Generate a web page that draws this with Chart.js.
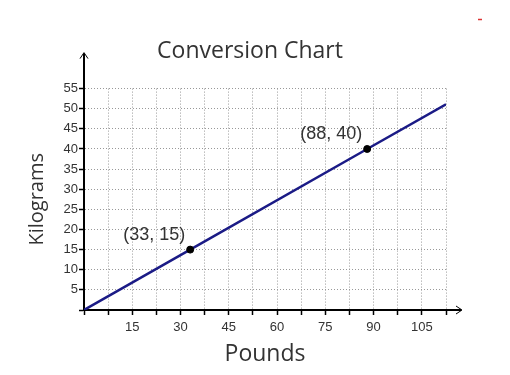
<!DOCTYPE html>
<html>
<head>
<meta charset="utf-8">
<script src="https://cdn.jsdelivr.net/npm/chart.js@4/dist/chart.umd.min.js"></script>
<style>
  body { margin: 0; background: #fff; }
  canvas { display: block; }
</style>
</head>
<body>
<canvas id="chart" width="510" height="375"></canvas>
<script>
// pounds -> kilograms line
const lineX = [0, 33, 88, 112.5]
const lineY = [0, 15, 40, 51.1]
// marked points
const pointX = [33, 88]
const pointY = [15, 40]
const pointLabels = ['(33, 15)', '(88, 40)']

const textColor = '#333'

// arrows on the axes, point labels, stray red mark
const extras = {
  id: 'extras',
  afterDraw(chart) {
    const ctx = chart.ctx
    const area = chart.chartArea
    const xs = chart.scales.x
    const ys = chart.scales.y
    ctx.save()
    ctx.strokeStyle = '#000'
    ctx.lineWidth = 2
    ctx.beginPath()
    ctx.moveTo(area.left, area.top)
    ctx.lineTo(area.left, area.top - 35)
    ctx.moveTo(area.right, area.bottom)
    ctx.lineTo(area.right + 15, area.bottom)
    ctx.stroke()
    ctx.lineWidth = 1
    ctx.beginPath()
    ctx.moveTo(area.left - 4, area.top - 30)
    ctx.lineTo(area.left, area.top - 36)
    ctx.lineTo(area.left + 4, area.top - 30)
    ctx.moveTo(area.right + 10, area.bottom - 4)
    ctx.lineTo(area.right + 16, area.bottom)
    ctx.lineTo(area.right + 10, area.bottom + 4)
    ctx.stroke()

    ctx.fillStyle = textColor
    ctx.font = '18px "Liberation Sans", Arial, sans-serif'
    ctx.textAlign = 'right'
    ctx.textBaseline = 'alphabetic'
    pointLabels.forEach((t, i) => {
      const px = xs.getPixelForValue(pointX[i])
      const py = ys.getPixelForValue(pointY[i])
      ctx.fillText(t, px - 5, py - 10)
    })

    ctx.strokeStyle = '#d33'
    ctx.lineWidth = 1.5
    ctx.beginPath()
    ctx.moveTo(478, 19.5)
    ctx.lineTo(482, 19.5)
    ctx.stroke()
    ctx.restore()
  }
}

new Chart(document.getElementById('chart'), {
  type: 'scatter',
  data: {
    datasets: [{
      data: lineX.map((x, i) => ({ x: x, y: lineY[i] })),
      showLine: true,
      borderColor: '#1b1b86',
      borderWidth: 2.5,
      pointRadius: 0,
      order: 2
    }, {
      data: pointX.map((x, i) => ({ x: x, y: pointY[i] })),
      pointRadius: 3.5,
      pointBackgroundColor: '#000',
      pointBorderColor: '#000',
      order: 1
    }]
  },
  plugins: [extras],
  options: {
    responsive: false,
    animation: false,
    devicePixelRatio: 1,
    layout: { padding: { left: 0, right: 10, top: 0, bottom: 0 } },
    plugins: {
      legend: { display: false },
      tooltip: { enabled: false },
      title: {
        display: true,
        text: 'Conversion Chart',
        color: textColor,
        font: { family: '"Open Sans", sans-serif', size: 23, weight: 'normal', lineHeight: 1.2 },
        padding: { top: 38, bottom: 23 }
      }
    },
    scales: {
      x: {
        type: 'linear',
        min: 0,
        max: 112.5,
        afterFit: s => { s.height = 65 },
        ticks: {
          stepSize: 7.5,
          autoSkip: false,
          maxRotation: 0,
          padding: 5,
          color: textColor,
          font: { family: '"Liberation Sans", Arial, sans-serif', size: 13 },
          callback: v => (v % 15 === 0 && v !== 0) ? v : ''
        },
        grid: { color: '#999', lineWidth: 1, tickColor: '#000', tickLength: 5, tickWidth: 1.5 },
        border: { color: '#000', width: 2, dash: [1, 2] },
        title: {
          display: true,
          text: 'Pounds',
          color: textColor,
          font: { family: '"Open Sans", sans-serif', size: 23, lineHeight: 1.2 },
          padding: { top: 0, bottom: 7 }
        }
      },
      y: {
        type: 'linear',
        min: 0,
        max: 55,
        afterFit: s => { s.width = 84 },
        ticks: {
          stepSize: 5,
          padding: 1,
          color: textColor,
          font: { family: '"Liberation Sans", Arial, sans-serif', size: 13 },
          callback: v => v === 0 ? '' : v
        },
        grid: { color: '#999', lineWidth: 1, tickColor: '#000', tickLength: 5, tickWidth: 1.5 },
        border: { color: '#000', width: 2, dash: [1, 2] },
        title: {
          display: true,
          text: 'Kilograms',
          color: textColor,
          font: { family: '"Open Sans", sans-serif', size: 20, lineHeight: 1.2 },
          padding: { top: 25, bottom: 0 }
        }
      },
      // empty right-hand space so the title centres like the original
      yRight: {
        type: 'linear',
        position: 'right',
        afterFit: s => { s.width = 54 },
        ticks: { display: false },
        grid: { display: false },
        border: { display: false }
      }
    }
  }
})
</script>
</body>
</html>
